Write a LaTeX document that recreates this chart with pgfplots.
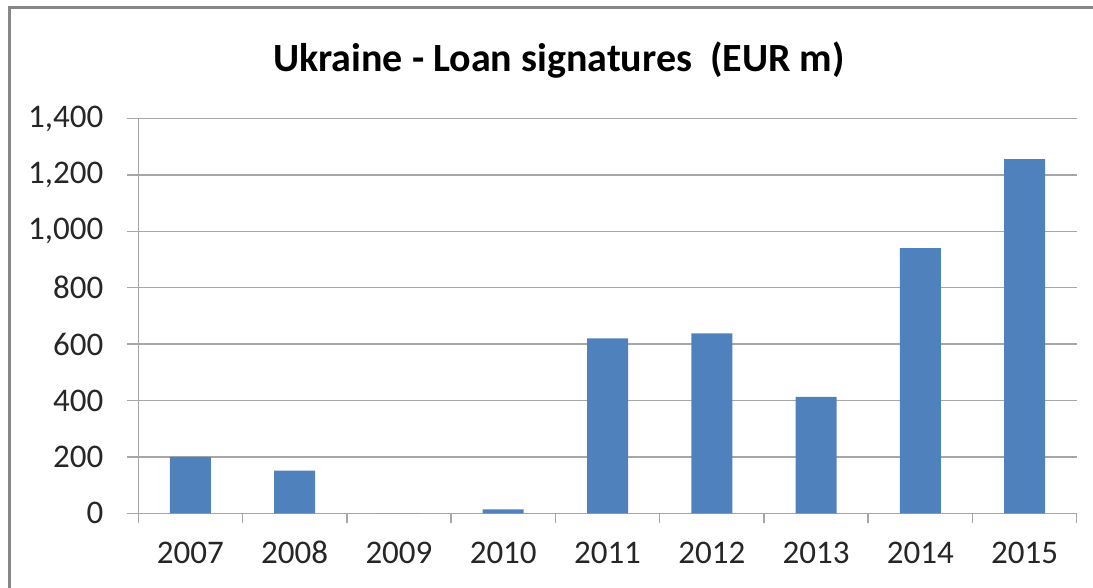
\documentclass[border=0pt]{standalone}
\usepackage{fontspec}
\setmainfont{Carlito}
\usepackage{pgfplots}
\pgfplotsset{compat=1.18}
\definecolor{barblue}{HTML}{4F81BD}
\definecolor{gridgray}{HTML}{A6A6A6}
\definecolor{framegray}{HTML}{878787}
\begin{document}
\begin{tikzpicture}
\useasboundingbox (0,0) rectangle (546.5pt,294pt);
\draw[framegray, line width=1.5pt] (4.75pt,0pt) -- (4.75pt,290.25pt) -- (546.5pt,290.25pt);
\node[font=\bfseries\fontsize{20}{24}\selectfont, text=black] at (279.5pt,264pt) {Ukraine - Loan signatures~ (EUR m)};
\begin{axis}[
  at={(69.15pt,37.35pt)}, anchor=south west,
  scale only axis, width=469.2pt, height=197.4pt,
  ymin=0, ymax=1400, xmin=-0.5, xmax=8.5,
  ytick={0,200,...,1400},
  xtick={0,...,8},
  xticklabels={2007,2008,2009,2010,2011,2012,2013,2014,2015},
  minor xtick={-0.5,0.5,...,8.5},
  major x tick style={draw=none},
  tick align=outside,
  major tick length=5.5pt, minor tick length=5pt,
  ymajorgrids, grid style={gridgray, line width=0.75pt},
  axis x line*=bottom, axis y line*=left,
  axis line style={gridgray, line width=0.75pt, -},
  tick style={gridgray, line width=0.75pt},
  ticklabel style={font=\fontsize{16.5}{18}\selectfont, text=black!85},
  x tick label style={text height=11pt, text depth=0pt},
  /pgf/number format/assume math mode=true,
  /pgf/number format/1000 sep={,},
  scaled y ticks=false,
  yticklabel shift=8.5pt,
  xticklabel shift=5pt,
  clip=false,
]
\addplot[ybar, bar width=20.5pt, fill=barblue, draw=none] coordinates {
  (0,200) (1,151) (2,0) (3,14) (4,620) (5,638) (6,413) (7,940) (8,1256)
};
\end{axis}
\end{tikzpicture}
\end{document}
